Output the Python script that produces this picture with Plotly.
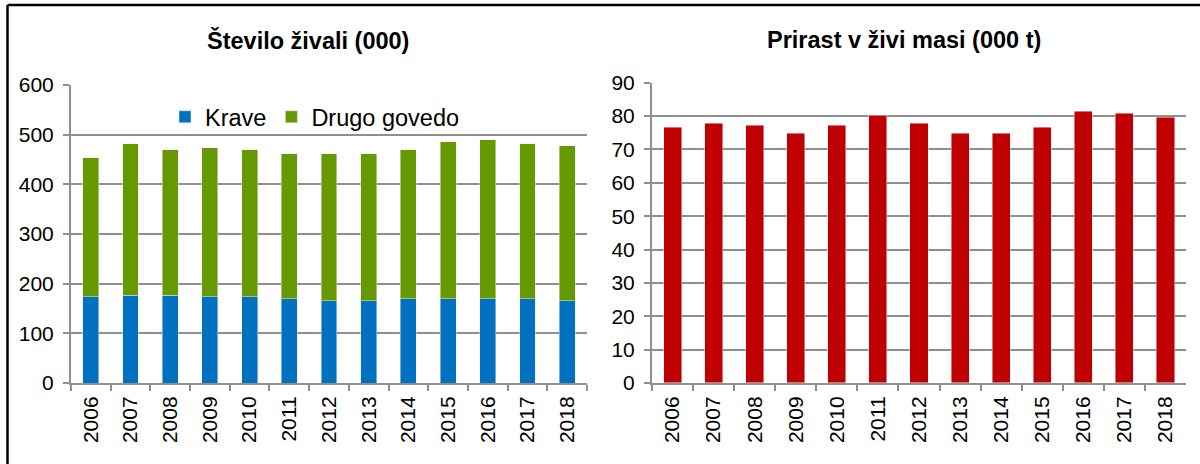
import plotly.graph_objects as go

years = ["2006", "2007", "2008", "2009", "2010", "2011", "2012",
         "2013", "2014", "2015", "2016", "2017", "2018"]

# Število živali (000)
krave = [174, 177, 177, 174, 174, 170, 166, 166, 170, 170, 170, 170, 166]
skupaj = [454, 482, 470, 474, 470, 462, 462, 462, 470, 486, 490, 482, 478]
drugo_govedo = [s - k for s, k in zip(skupaj, krave)]

# Prirast v živi masi (000 t)
prirast = [76.6, 77.8, 77.2, 74.8, 77.2, 80.2, 77.8, 74.8, 74.8, 76.6, 81.4, 80.8, 79.6]

W, H = 1200, 464
FONT = "Liberation Sans, Arial, sans-serif"
GRID = "#8f8f8f"


def px_x(v):
    return v / W


def px_y(v):
    return 1 - v / H


fig = go.Figure()

fig.add_trace(go.Bar(x=years, y=krave, name="Krave", marker_color="#0070C0",
                     width=0.4, xaxis="x", yaxis="y"))
fig.add_trace(go.Bar(x=years, y=drugo_govedo, name="Drugo govedo", marker_color="#669900",
                     width=0.4, xaxis="x", yaxis="y"))
fig.add_trace(go.Bar(x=years, y=prirast, name="Prirast", marker_color="#C00000",
                     width=0.44, xaxis="x2", yaxis="y2", showlegend=False))

xaxis_common = dict(
    type="category", showline=True, linecolor=GRID, linewidth=2, automargin=False,
    ticks="outside", tickson="boundaries", ticklen=6, tickcolor=GRID, tickwidth=2,
    tickangle=-90, showgrid=False, ticklabelstandoff=3,
    tickfont=dict(size=21, color="black", family=FONT),
)
yaxis_common = dict(
    showline=True, linecolor=GRID, linewidth=2, showgrid=True, gridcolor=GRID, gridwidth=2,
    ticks="outside", ticklen=6, tickcolor=GRID, tickwidth=2, zeroline=False, automargin=False,
    ticklabelstandoff=5, tickfont=dict(size=21, color="black", family=FONT),
)

fig.update_layout(
    width=W, height=H, margin=dict(l=0, r=0, t=0, b=0, autoexpand=False),
    paper_bgcolor="white", plot_bgcolor="white",
    barmode="stack", font=dict(family=FONT, color="black"),
    xaxis=dict(domain=[px_x(71), px_x(587)], anchor="y", **xaxis_common),
    yaxis=dict(domain=[px_y(383), px_y(85)], anchor="x", range=[0, 600], dtick=100, **yaxis_common),
    xaxis2=dict(domain=[px_x(652), px_x(1186)], anchor="y2", **xaxis_common),
    yaxis2=dict(domain=[px_y(383), px_y(82.7)], anchor="x2", range=[0, 90], dtick=10, **yaxis_common),
    legend=dict(orientation="h", x=px_x(165), y=px_y(117), xanchor="left", yanchor="middle",
                font=dict(size=23.5, family=FONT), bgcolor="rgba(0,0,0,0)", traceorder="normal"),
    showlegend=True,
)

fig.add_annotation(text="<b>Število živali (000)</b>", x=px_x(307.5), y=px_y(40), xref="paper", yref="paper",
                   xanchor="center", yanchor="middle", showarrow=False,
                   font=dict(size=23.5, family=FONT, color="black"))
fig.add_annotation(text="<b>Prirast v živi masi (000 t)</b>", x=px_x(904), y=px_y(40), xref="paper", yref="paper",
                   xanchor="center", yanchor="middle", showarrow=False,
                   font=dict(size=23.5, family=FONT, color="black"))

# outer frame (left and top edges visible, rest runs off the page)
fig.add_shape(type="line", xref="paper", yref="paper", x0=px_x(7.5), y0=0, x1=px_x(7.5), y1=px_y(5),
              line=dict(color="black", width=2.5))
fig.add_shape(type="line", xref="paper", yref="paper", x0=px_x(7.5), y0=px_y(5), x1=1, y1=px_y(5),
              line=dict(color="black", width=2.5))

# page body has a default 8px margin; drop it so the figure sits at the window corner
fig.write_html("out.html", config={"displayModeBar": False},
               post_script="document.body.style.margin='0';")
